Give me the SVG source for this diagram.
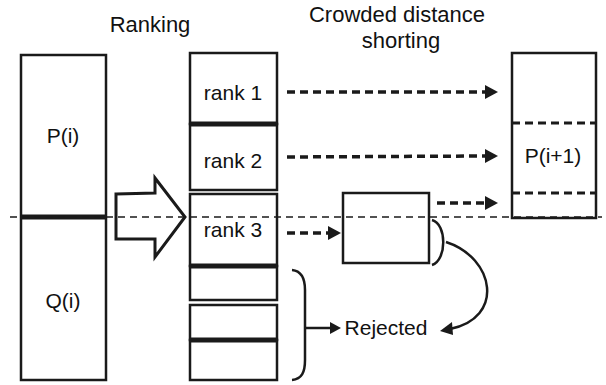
<svg xmlns="http://www.w3.org/2000/svg" width="606" height="385" viewBox="0 0 606 385">
<defs>
<style>
text{font-family:"Liberation Sans",Arial,sans-serif;fill:#111;text-anchor:middle}
.lbl{font-size:21px}
.hdr{font-size:22px}
.box{fill:#fff;stroke:#1a1a1a;stroke-width:2.5}
.thick{stroke:#1a1a1a;stroke-width:5}
.dash{fill:none;stroke:#1a1a1a;stroke-width:3.5;stroke-dasharray:8 5}
.thin{fill:none;stroke:#1a1a1a;stroke-width:1.5;stroke-dasharray:7 5}
.curve{fill:none;stroke:#1a1a1a;stroke-width:2.5}
</style>
</defs>
<g id="headers">
<text class="hdr" x="150" y="32">Ranking</text>
<text class="hdr" x="397" y="22">Crowded distance</text>
<text class="hdr" x="401" y="48">shorting</text>
</g>
<g id="population">
<rect class="box" x="21" y="55" width="85" height="325"/>
<line class="thick" x1="21" y1="217" x2="106" y2="217"/>
<text class="lbl" x="63" y="143">P(i)</text>
<text class="lbl" x="63" y="308">Q(i)</text>
</g>
<g id="ranking-arrow">
<polygon points="116,194 155,193 155,178 185,217 155,257 155,239 116,239" fill="#fff" stroke="#1a1a1a" stroke-width="3" stroke-linejoin="miter"/>
</g>
<g id="rank1">
<rect class="box" x="190" y="53" width="87" height="71"/>
<text class="lbl" x="233" y="100">rank 1</text>
</g>
<g id="rank2">
<rect class="box" x="190" y="124" width="87" height="66"/>
<line class="thick" x1="190" y1="124" x2="277" y2="124"/>
<text class="lbl" x="233" y="168">rank 2</text>
</g>
<g id="rank3">
<rect class="box" x="190" y="194" width="87" height="72"/>
<text class="lbl" x="233" y="237">rank 3</text>
</g>
<g id="rank4">
<rect class="box" x="190" y="266" width="87" height="34"/>
<line class="thick" x1="190" y1="266" x2="277" y2="266"/>
</g>
<g id="rank5">
<rect class="box" x="190" y="305" width="87" height="35"/>
</g>
<g id="rank6">
<rect class="box" x="190" y="340" width="87" height="40"/>
<line class="thick" x1="190" y1="340" x2="277" y2="340"/>
</g>
<g id="crowding-box">
<rect class="box" x="343" y="193" width="86" height="70" stroke-width="3"/>
</g>
<g id="next-population">
<rect class="box" x="512" y="53" width="84" height="165"/>
<line x1="512" y1="123" x2="596" y2="123" stroke="#1a1a1a" stroke-width="3" stroke-dasharray="8 5"/>
<line x1="512" y1="193" x2="596" y2="193" stroke="#1a1a1a" stroke-width="3" stroke-dasharray="8 5"/>
<text class="lbl" x="553" y="163">P(i+1)</text>
</g>
<g id="rejected">
<text class="lbl" x="386" y="335">Rejected</text>
</g>
<g id="connectors">
<line class="thin" x1="10" y1="217" x2="602" y2="217"/>
<line class="dash" x1="287" y1="92" x2="486" y2="92"/>
<path d="M485,85 L498,92 L485,99 Z" fill="#1a1a1a"/>
<line class="dash" x1="287" y1="157" x2="486" y2="156"/>
<path d="M485,149 L498,156 L485,163 Z" fill="#1a1a1a"/>
<line class="dash" x1="437" y1="203" x2="486" y2="203"/>
<path d="M485,196 L498,203 L485,210 Z" fill="#1a1a1a"/>
<line class="dash" x1="287" y1="233" x2="329" y2="233"/>
<path d="M328,226 L341,233 L328,240 Z" fill="#1a1a1a"/>
<path class="curve" d="M432,220 C447,224 447,260 432,265"/>
<path class="curve" d="M446,242 C495,258 505,318 450,329"/>
<path d="M440,331 L452,322 L453,335 Z" fill="#1a1a1a"/>
<path class="curve" d="M292,270 C302,271 305,280 305,290 L305,360 C305,372 302,379 292,380"/>
<line class="curve" x1="305" y1="328" x2="332" y2="328"/>
<path d="M330,322 L341,328 L330,334 Z" fill="#1a1a1a"/>
</g>
</svg>
